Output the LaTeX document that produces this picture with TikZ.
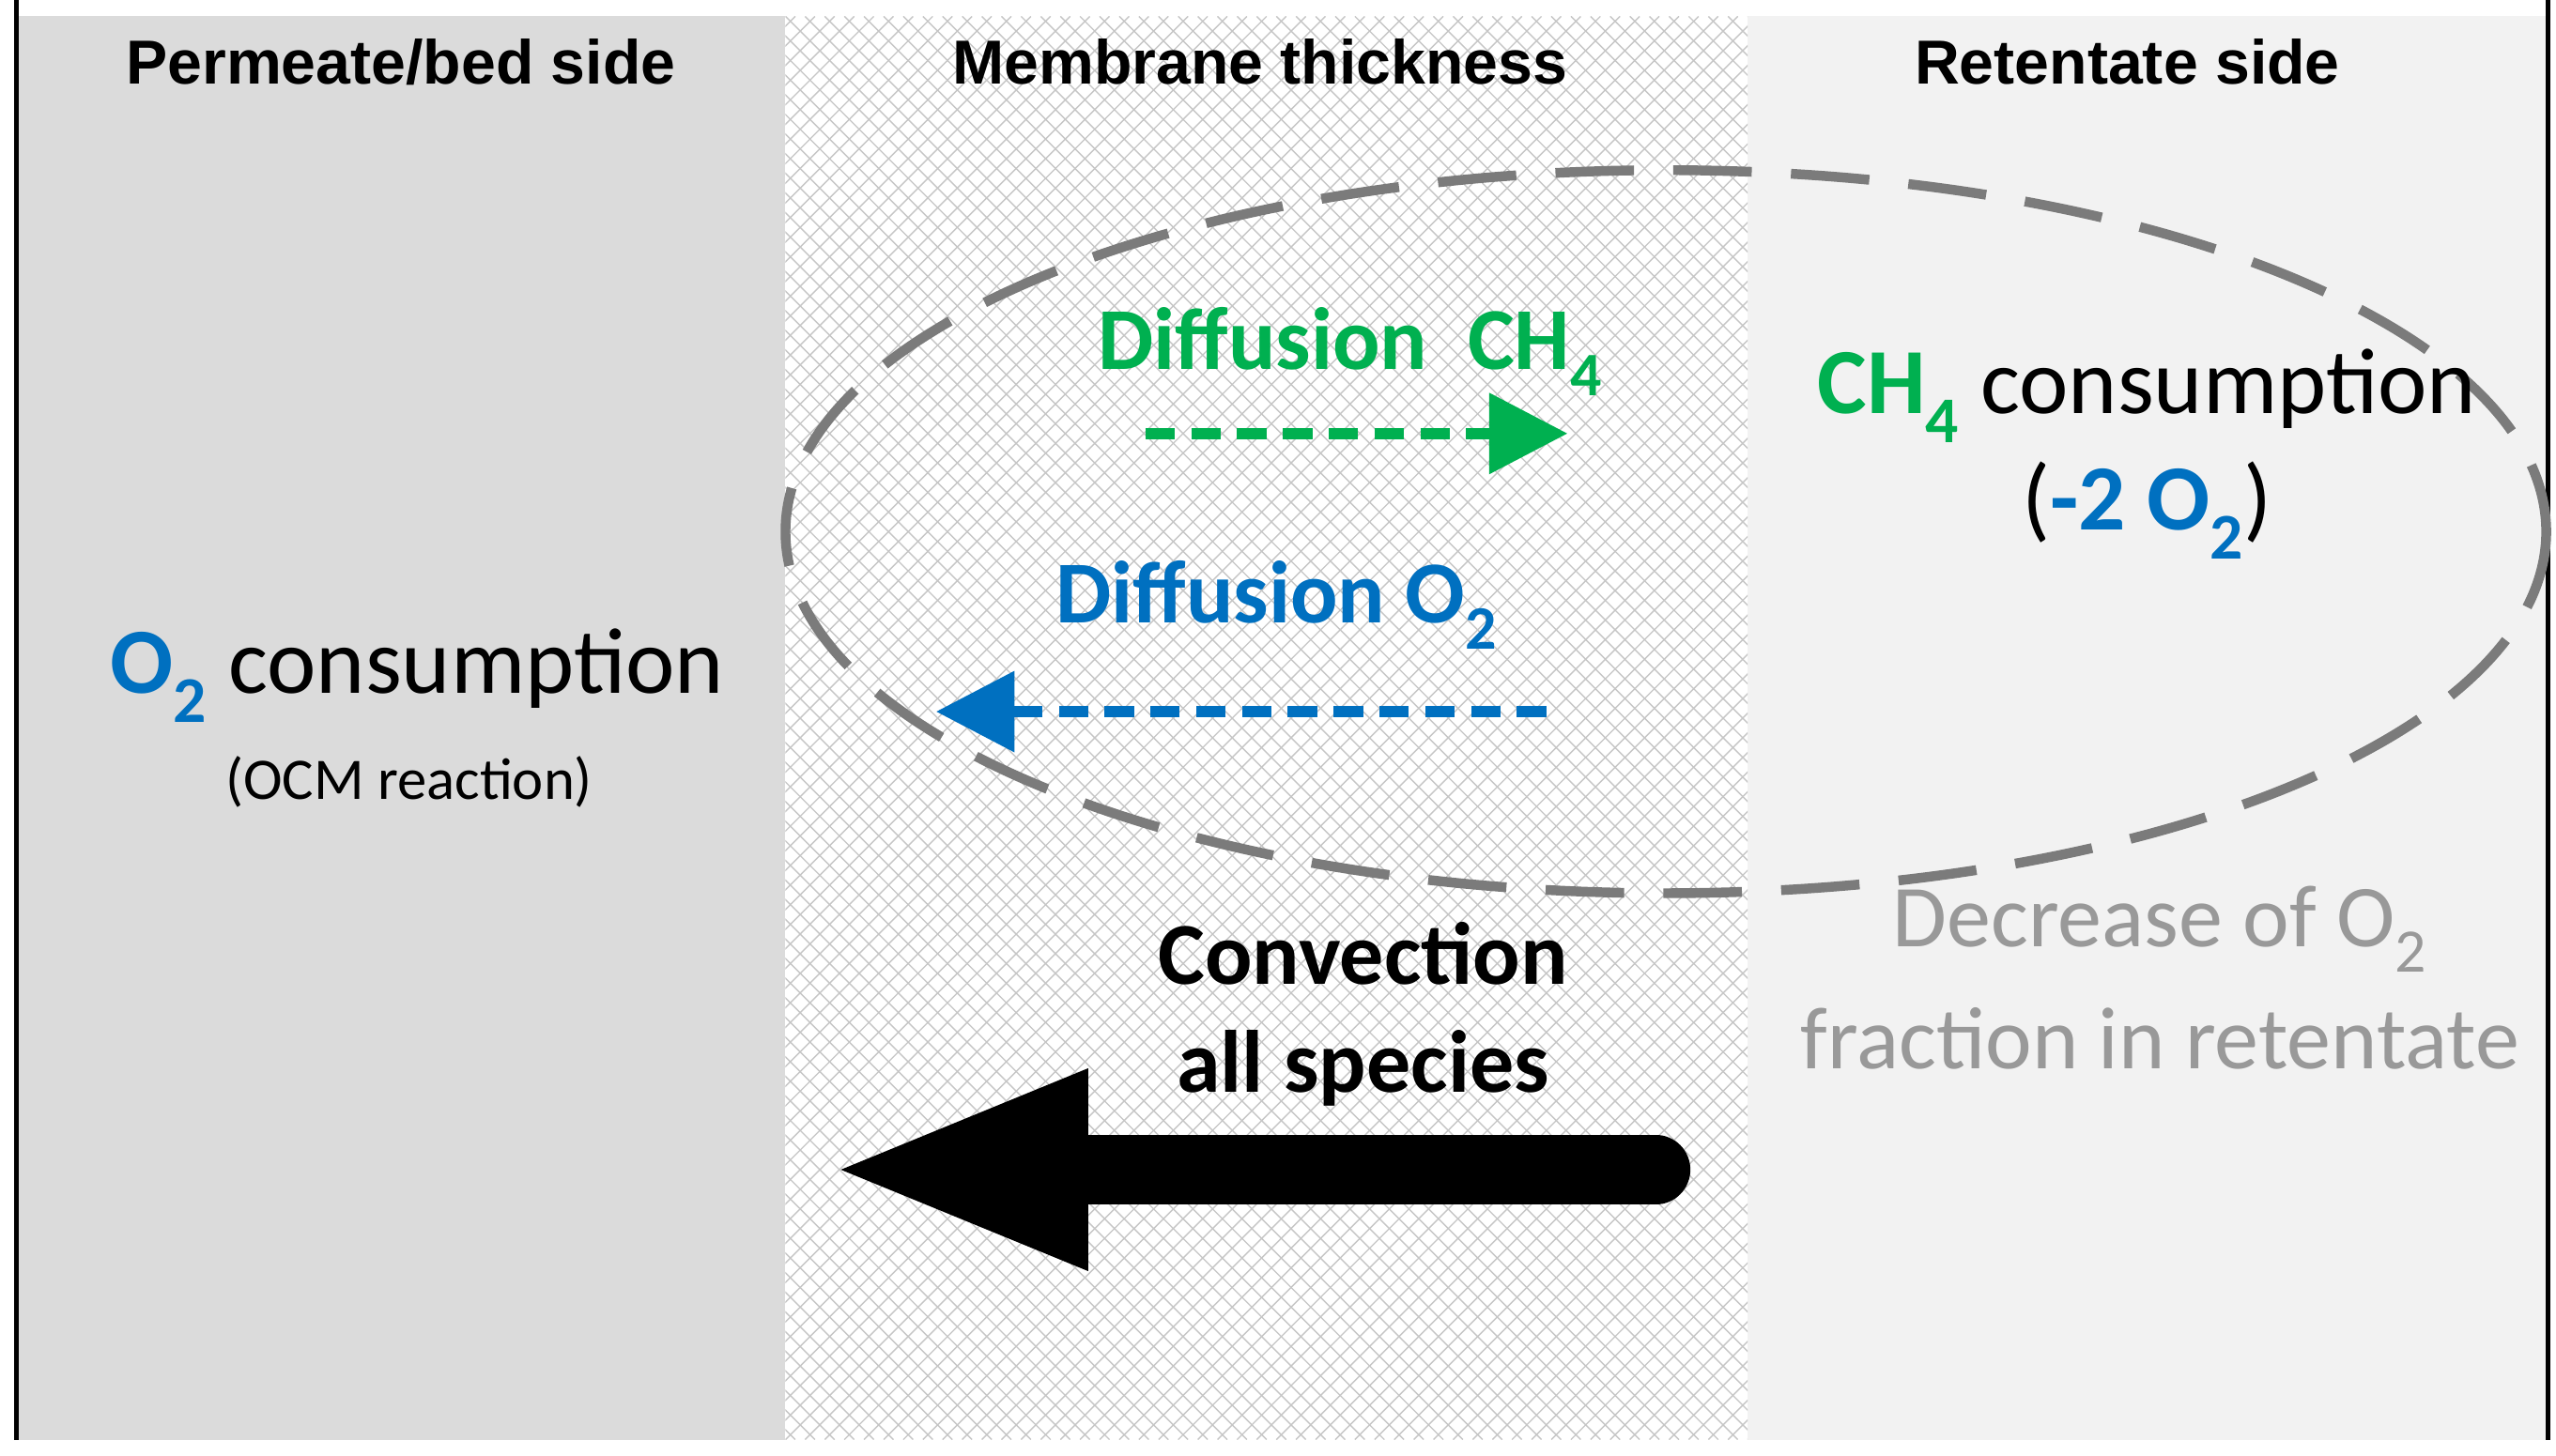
\documentclass[tikz,border=0pt]{standalone}
\usepackage{fontspec}
\setmainfont{Carlito}
\newfontfamily\hdr{Liberation Sans}
\usetikzlibrary{arrows.meta}
\definecolor{cgreen}{RGB}{0,176,80}
\definecolor{cblue}{RGB}{0,112,192}
\begin{document}
\begin{tikzpicture}[x=1pt,y=-1pt,
  hd/.style={font=\hdr\bfseries\fontsize{38}{42}\selectfont},
  big/.style={font=\fontsize{57}{62}\selectfont},
  bb/.style={font=\bfseries\fontsize{54}{60}\selectfont}]
\useasboundingbox (0,0) rectangle (1562,890);
\fill[white] (0,0) rectangle (1562,890);
\fill[gray!28] (10,10) rectangle (480,880);
\fill[gray!10] (1068,10) rectangle (1557,880);
\begin{scope}
\clip (480,10) rectangle (1068,880);
\foreach \i in {-900,-888,...,1500}{
  \draw[gray!45,line width=0.8pt] (480+\i,10) -- (480+\i+870,880);
  \draw[gray!45,line width=0.8pt] (480+\i,880) -- (480+\i+870,10);
}
\end{scope}
\draw[line width=2.5pt] (10,0) -- (10,880);
\draw[line width=2.5pt] (1557,0) -- (1557,880);
\node[hd] (h1) at (245,38) {Permeate/bed side};
\node[hd] (h2) at (770,38) {Membrane thickness};
\node[hd] (h3) at (1300,38) {Retentate side};
\draw[gray!85!black!90,line width=6pt,dash pattern=on 48pt off 24pt] (1018,325) ellipse [x radius=538,y radius=221];
\node[bb,text=cgreen] (dg) at (825,215) {Diffusion\ \ CH\textsubscript{4}};
\coordinate (g1) at (700,265); \coordinate (g2) at (958,265);
\draw[cgreen,line width=7pt,dash pattern=on 18pt off 10pt,-{Triangle[length=48pt,width=48pt]}] (g1) -- (g2);
\node[bb,text=cblue] (db) at (780,370) {Diffusion O\textsubscript{2}};
\coordinate (b1) at (945,435); \coordinate (b2) at (572,435);
\draw[cblue,line width=7pt,dash pattern=on 18pt off 10pt,-{Triangle[length=48pt,width=48pt]}] (b1) -- (b2);
\node[big] (c1) at (1312,242) {\textcolor{cgreen}{\bfseries CH\textsubscript{4}} consumption};
\node[big] (c2) at (1312,312) {(\textcolor{cblue}{\bfseries -2 O\textsubscript{2}})};
\node[big] (o1) at (255,413) {\textcolor{cblue}{\bfseries O\textsubscript{2}} consumption};
\node[font=\fontsize{36}{40}\selectfont] (o2) at (250,478) {(OCM reaction)};
\node[font=\fontsize{54}{60}\selectfont,text=gray!80] (d1) at (1320,568) {Decrease of O\textsubscript{2}};
\node[font=\fontsize{54}{60}\selectfont,text=gray!80] (d2) at (1320,635) {fraction in retentate};
\node[bb] (v1) at (833,583) {Convection};
\node[bb] (v2) at (833,653) {all species};
\coordinate (a1) at (1012,715); \coordinate (a2) at (505,715);
\draw[line width=42pt,line cap=round,-{Triangle[length=160pt,width=110pt]}] (a1) -- (a2);
\end{tikzpicture}
\end{document}
